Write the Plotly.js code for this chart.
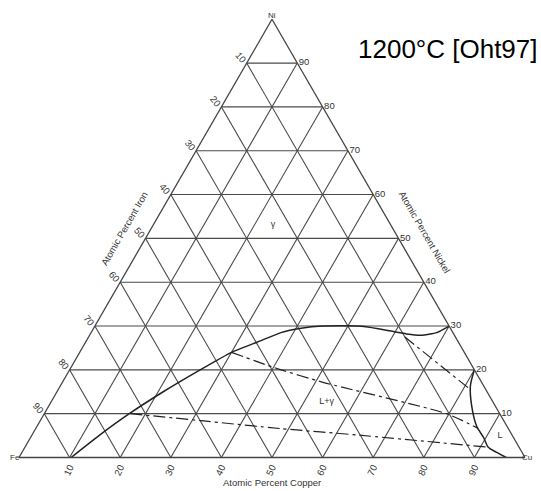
<!DOCTYPE html>
<html>
<head>
<meta charset="utf-8">
<script src="https://cdn.plot.ly/plotly-3.0.1.min.js"></script>
<style>
  html, body { margin: 0; padding: 0; background: #fff; }
  #chart { width: 541px; height: 491px; }
</style>
</head>
<body>
<div id="chart"></div>
<script>
// grid every 10 at.%, a = Ni (top), b = Fe (left), c = Cu (right)
const gridVals = [10, 20, 30, 40, 50, 60, 70, 80, 90];
// the printed numbers on each edge count the other component
const ironTicks = ['90', '80', '70', '60', '50', '40', '30', '20', '10'];   // left edge
const copperTicks = ['90', '80', '70', '60', '50', '40', '30', '20', '10']; // bottom edge
const nickelTicks = ['90', '80', '70', '60', '50', '40', '30', '20', '10']; // right edge

// gamma / (L+gamma) boundary from the Fe side, Ni and Cu in at.%
const gammaNi = [0, 5, 10, 15, 20, 24, 26.6, 28.5, 29.5, 30, 30, 29.4, 28.2, 27.9, 28.5, 30];
const gammaCu = [10.3, 13.3, 16.8, 21, 25.8, 30, 34.4, 37.5, 41, 45, 52, 56.3, 62.5, 65.5, 68.3, 70];

// L / (L+gamma) boundary near the Cu corner
const liquidNi = [20, 16.2, 10.5, 7, 4.5, 2.4, 1.2, 0];
const liquidCu = [80, 81.1, 84.4, 87, 89.6, 91.5, 93.7, 96.3];

// tie lines
const tieUpperNi = [27.5, 15.8];
const tieUpperCu = [62.5, 81];
const tieMiddleNi = [24, 20.6, 17.1, 10, 6.7];
const tieMiddleCu = [30, 39.9, 51.7, 79.5, 87.3];
const tieLowerNi = [10, 8.4, 6.6, 5.1, 2.4];
const tieLowerCu = [17, 31.8, 48.3, 64.6, 91];

// phase field labels
const phaseNames = ['γ', 'L+γ', 'L'];
const phaseNi = [53, 12.8, 4.9];
const phaseCu = [23.7, 54.4, 92.6];

const font = 'Liberation Sans, Arial, sans-serif';
const tieDash = '12px,4px,3px,4px';

function curve(ni, cu, dash, width, smooth) {
  return {
    type: 'scatterternary',
    mode: 'lines',
    a: ni,
    c: cu,
    line: {color: '#222', width: width, dash: dash, shape: 'spline', smoothing: smooth},
    hoverinfo: 'skip'
  };
}

var data = [
  curve(gammaNi, gammaCu, 'solid', 1.5, 0.5),
  curve(liquidNi, liquidCu, 'solid', 1.5, 0.8),
  curve(tieUpperNi, tieUpperCu, tieDash, 1.2, 0),
  curve(tieMiddleNi, tieMiddleCu, tieDash, 1.2, 0.6),
  curve(tieLowerNi, tieLowerCu, tieDash, 1.2, 0.6),
  {
    type: 'scatterternary',
    mode: 'text',
    a: phaseNi,
    c: phaseCu,
    text: phaseNames,
    textfont: {family: font, size: 9, color: '#333'},
    hoverinfo: 'skip'
  }
];

function edgeAxis(ticktext, angle) {
  return {
    title: {text: ''},
    tickmode: 'array',
    tickvals: gridVals,
    ticktext: ticktext,
    ticks: '',
    tickangle: angle,
    tickfont: {family: font, size: 9.5, color: '#333'},
    showgrid: true,
    gridcolor: '#4a4a4a',
    gridwidth: 1.1,
    showline: true,
    linecolor: '#444',
    linewidth: 1.3
  };
}

// paper position helper from pixel spot
function px(x) { return x / 541; }
function py(y) { return 1 - y / 491; }

var layout = {
  width: 541,
  height: 491,
  margin: {l: 0, r: 0, t: 0, b: 0, pad: 0},
  paper_bgcolor: '#fff',
  showlegend: false,
  hovermode: false,
  ternary: {
    sum: 100,
    domain: {x: [19 / 541, 525 / 541], y: [0.0645, 0.9645]},
    bgcolor: 'rgba(0,0,0,0)',
    aaxis: edgeAxis(ironTicks, 50),
    baxis: edgeAxis(copperTicks, -65),
    caxis: edgeAxis(nickelTicks, 0)
  },
  annotations: [
    {text: '1200°C [Oht97]', x: px(540), y: py(49), xanchor: 'right', yanchor: 'middle',
     showarrow: false, font: {family: font, size: 26, color: '#000'}},
    {text: 'Atomic Percent Copper', x: px(272), y: py(482), xanchor: 'center', yanchor: 'middle',
     showarrow: false, font: {family: font, size: 9.5, color: '#333'}},
    {text: 'Atomic Percent Iron', x: px(124), y: py(228), xanchor: 'center', yanchor: 'middle',
     textangle: -60, showarrow: false, font: {family: font, size: 9.5, color: '#333'}},
    {text: 'Atomic Percent Nickel', x: px(424), y: py(232), xanchor: 'center', yanchor: 'middle',
     textangle: 60, showarrow: false, font: {family: font, size: 9.5, color: '#333'}},
    {text: 'Ni', x: px(272), y: py(9), showarrow: false, font: {family: font, size: 8, color: '#333'}},
    {text: 'Fe', x: px(8), y: py(464), showarrow: false, font: {family: font, size: 8, color: '#333'}},
    {text: 'Cu', x: px(534), y: py(464), showarrow: false, font: {family: font, size: 8, color: '#333'}}
  ]
};

Plotly.newPlot('chart', data, layout, {displayModeBar: false, staticPlot: true});
</script>
</body>
</html>
